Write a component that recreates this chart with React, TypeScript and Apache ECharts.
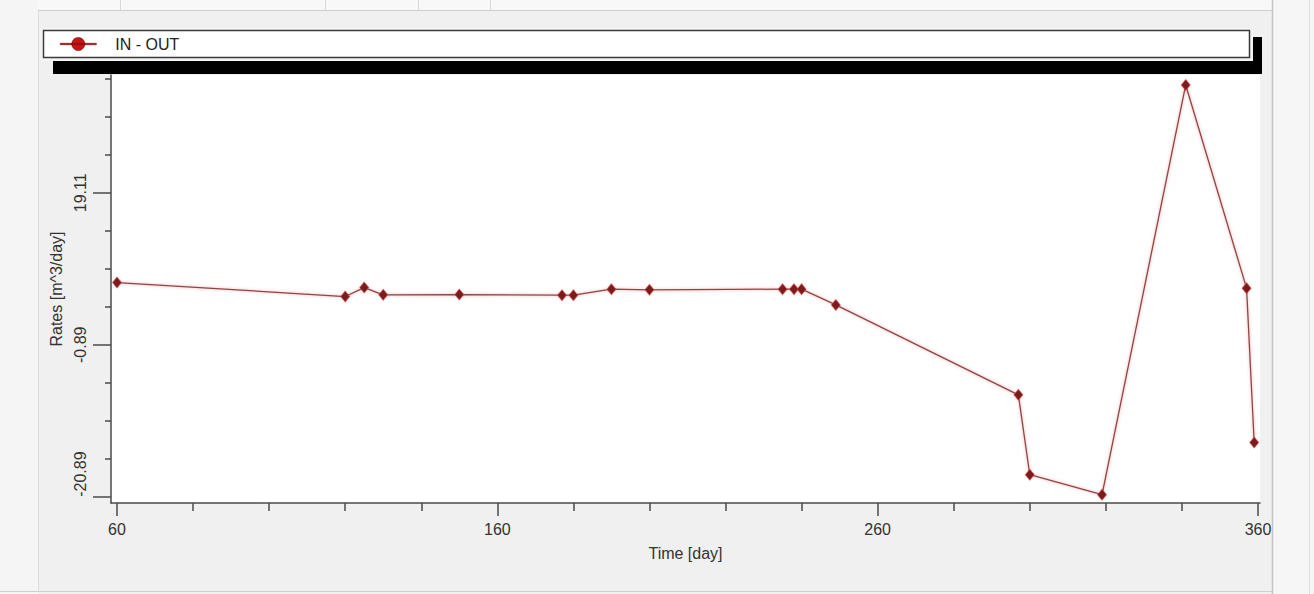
import { useEffect, useRef } from "react";
import * as echarts from "echarts";

// Net rate (inflow minus outflow) over the simulation period
const days = [60, 120, 125, 130, 150, 177, 180, 190, 200, 235, 238, 240, 249, 297, 300, 319, 341, 357, 359];
const rates = [7.3, 5.46, 6.64, 5.68, 5.72, 5.64, 5.64, 6.43, 6.34, 6.43, 6.43, 6.43, 4.36, -7.47, -17.98, -20.61, 33.29, 6.56, -13.74];
const seriesName = "IN - OUT";

// Axis ticks
const xMajorTicks = [60, 160, 260, 360];
const xMinorTicks = [80, 100, 120, 140, 180, 200, 220, 240, 280, 300, 320, 340];
const yCenteredLabels = [-0.89, 19.11];
const yBottomLabel = [-20.89];
const yMajorTicks = [-20.89, -0.89, 19.11];
const yMinorTicks = [-15.89, -10.89, -5.89, 4.11, 9.11, 14.11, 24.11, 29.11, 34.11];

const FONT = "'Liberation Sans', Arial, sans-serif";
const AXIS_COLOR = "#4a4a4a";
const TEXT_COLOR = "#333333";

const X_MIN = 58.42;
const X_MAX = 360.53;
const Y_MIN = -21.7;
const Y_MAX = 34.6;

export default function App() {
  const ref = useRef<HTMLDivElement>(null);

  useEffect(() => {
    if (!ref.current) return;
    const chart = echarts.init(ref.current, undefined, { renderer: "svg" });

    const labelStyle = { fontSize: 16, color: TEXT_COLOR, fontFamily: FONT };
    const tickLine = { color: AXIS_COLOR, width: 1.5 };

    chart.setOption({
      animation: false,
      backgroundColor: "#f0f0f0",
      grid: {
        left: 111,
        top: 75,
        width: 1149,
        height: 428,
        show: true,
        backgroundColor: "#ffffff",
        borderWidth: 0,
      },
      legend: {
        left: 60,
        top: 36,
        padding: 0,
        itemWidth: 36,
        itemHeight: 14,
        selectedMode: false,
        data: [
          {
            name: seriesName,
            icon: "path://M0,6.3H36V7.7H0Z M18,0.5A6.5,6.5,0,1,1,17.99,0.5Z",
          },
        ],
        itemStyle: { color: "#c81414", borderColor: "#6e0a0a", borderWidth: 0.6 },
        textStyle: { ...labelStyle, color: "#222222", padding: [0, 0, 0, 14] },
      },
      graphic: [
        // window chrome around the chart panel
        { type: "rect", shape: { x: 0, y: 0, width: 38, height: 594 }, style: { fill: "#f5f5f5" }, silent: true },
        { type: "line", shape: { x1: 38.5, y1: 0, x2: 38.5, y2: 592 }, style: { stroke: "#dcdcdc", lineWidth: 1 }, silent: true },
        { type: "rect", shape: { x: 38, y: 0, width: 1234, height: 10 }, style: { fill: "#f8f8f8" }, silent: true },
        { type: "line", shape: { x1: 38, y1: 10.5, x2: 1272, y2: 10.5 }, style: { stroke: "#cfcfcf", lineWidth: 1 }, silent: true },
        { type: "line", shape: { x1: 120.5, y1: 0, x2: 120.5, y2: 10 }, style: { stroke: "#d8d8d8", lineWidth: 1 }, silent: true },
        { type: "line", shape: { x1: 325.5, y1: 0, x2: 325.5, y2: 10 }, style: { stroke: "#d8d8d8", lineWidth: 1 }, silent: true },
        { type: "line", shape: { x1: 418.5, y1: 0, x2: 418.5, y2: 10 }, style: { stroke: "#d8d8d8", lineWidth: 1 }, silent: true },
        { type: "line", shape: { x1: 490.5, y1: 0, x2: 490.5, y2: 10 }, style: { stroke: "#d8d8d8", lineWidth: 1 }, silent: true },
        { type: "rect", shape: { x: 1273, y: 0, width: 41, height: 594 }, style: { fill: "#f6f6f6" }, silent: true },
        { type: "line", shape: { x1: 1272.5, y1: 0, x2: 1272.5, y2: 594 }, style: { stroke: "#c4c4c4", lineWidth: 1.5 }, silent: true },
        { type: "line", shape: { x1: 1309.5, y1: 0, x2: 1309.5, y2: 594 }, style: { stroke: "#dedede", lineWidth: 1 }, silent: true },
        { type: "line", shape: { x1: 0, y1: 591.5, x2: 1272, y2: 591.5 }, style: { stroke: "#cfcfcf", lineWidth: 1 }, silent: true },
        // legend frame with its drop shadow
        { type: "rect", shape: { x: 53, y: 37, width: 1209, height: 37 }, style: { fill: "#000000" }, silent: true },
        { type: "rect", shape: { x: 41, y: 28, width: 1212, height: 33 }, style: { fill: "#f4f4f4" }, silent: true },
        {
          type: "rect",
          shape: { x: 43.5, y: 30.5, width: 1206, height: 27 },
          style: { fill: "#ffffff", stroke: "#3a3a3a", lineWidth: 1.5 },
          silent: true,
        },
      ],
      xAxis: [
        {
          type: "value",
          min: X_MIN,
          max: X_MAX,
          position: "bottom",
          axisLine: { show: true, onZero: false, lineStyle: tickLine },
          axisTick: { show: true, customValues: xMajorTicks, length: 13, lineStyle: tickLine },
          axisLabel: { customValues: xMajorTicks, margin: 18, ...labelStyle },
          splitLine: { show: false },
          name: "Time [day]",
          nameLocation: "middle",
          nameGap: 42,
          nameTextStyle: labelStyle,
        },
        {
          type: "value",
          min: X_MIN,
          max: X_MAX,
          position: "bottom",
          axisLine: { show: false, onZero: false },
          axisTick: { show: true, customValues: xMinorTicks, length: 8, lineStyle: tickLine },
          axisLabel: { show: false },
          splitLine: { show: false },
        },
      ],
      yAxis: [
        {
          type: "value",
          min: Y_MIN,
          max: Y_MAX,
          position: "left",
          axisLine: { show: true, onZero: false, lineStyle: tickLine },
          axisTick: { show: true, customValues: yMajorTicks, length: 18, lineStyle: tickLine },
          axisLabel: {
            customValues: yCenteredLabels,
            rotate: 90,
            margin: 23,
            formatter: (v: number) => v.toFixed(2),
            ...labelStyle,
          },
          splitLine: { show: false },
          name: "Rates [m^3/day]",
          nameLocation: "middle",
          nameRotate: 90,
          nameGap: 46,
          nameTextStyle: labelStyle,
        },
        {
          type: "value",
          min: Y_MIN,
          max: Y_MAX,
          position: "left",
          axisLine: { show: false, onZero: false },
          axisTick: { show: true, customValues: yMinorTicks, length: 6, lineStyle: tickLine },
          axisLabel: { show: false },
          splitLine: { show: false },
        },
        {
          type: "value",
          min: Y_MIN,
          max: Y_MAX,
          position: "left",
          axisLine: { show: false, onZero: false },
          axisTick: { show: false },
          axisLabel: {
            customValues: yBottomLabel,
            rotate: 90,
            margin: 23,
            align: "left",
            formatter: (v: number) => v.toFixed(2),
            ...labelStyle,
          },
          splitLine: { show: false },
        },
      ],
      series: [
        {
          type: "line",
          name: seriesName,
          xAxisIndex: 0,
          yAxisIndex: 0,
          data: days.map((d, i) => [d, rates[i]]),
          symbol: "diamond",
          symbolSize: [9, 11],
          showAllSymbol: true,
          clip: false,
          itemStyle: { color: "#7a1c1c", borderColor: "rgba(220,60,60,0.55)", borderWidth: 1 },
          lineStyle: {
            color: "#8d4545",
            width: 1.3,
            shadowColor: "rgba(235,70,70,0.5)",
            shadowBlur: 3,
          },
        },
      ],
    });

    return () => chart.dispose();
  }, []);

  return (
    <div
      ref={ref}
      style={{ position: "fixed", left: 0, top: 0, width: 1314, height: 594 }}
    />
  );
}
